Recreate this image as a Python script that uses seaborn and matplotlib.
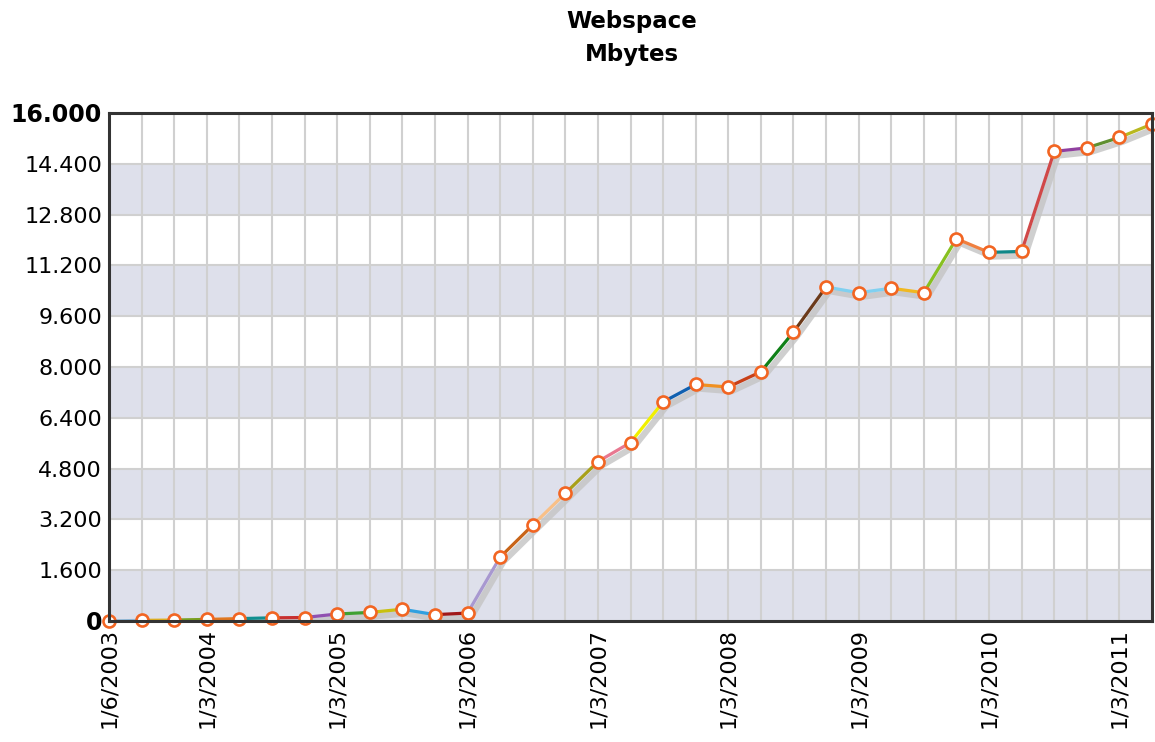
import matplotlib
matplotlib.use("Agg")
import matplotlib.pyplot as plt
import matplotlib.patheffects as pe
import seaborn as sns
import pandas as pd

# quarterly samples, 1/6/2003 .. 1/6/2011
dates = pd.date_range("2003-06-01", "2011-06-01", freq="3MS")
mbytes = [0, 20, 30, 50, 75, 100, 110, 220, 270, 370, 200, 250,
          2010, 3020, 4020, 5020, 5620, 6900, 7450, 7370, 7850,
          9100, 10520, 10340, 10480, 10340, 12040, 11610, 11640,
          14790, 14900, 15230, 15650]
seg_colors = ["#8fb8d8", "#e0b020", "#7aa020", "#e07820", "#109090", "#c83030",
              "#9050b0", "#40a030", "#c8c010", "#30a0e0", "#a01818", "#a898d0",
              "#c86418", "#f8c088", "#a8a018", "#e87890", "#f0f000", "#1060b0",
              "#f09020", "#c84018", "#108018", "#6b3a1a", "#80d0f0", "#80d0f0",
              "#f0b820", "#88c020", "#f08040", "#108888", "#d04848", "#9040a0",
              "#609030", "#b8b820"]
yticks = [0, 1600, 3200, 4800, 6400, 8000, 9600, 11200, 12800, 14400, 16000]

df = pd.DataFrame({"x": range(len(dates)), "y": mbytes})
labels = ["1/%d/%d" % (d.month, d.year) for d in dates]
label_pos = [i for i, d in enumerate(dates) if i == 0 or d.month == 3]

# each coloured piece between two neighbouring points
rows = []
for i in range(len(df) - 1):
    rows.append({"x": i, "y": mbytes[i], "seg": i})
    rows.append({"x": i + 1, "y": mbytes[i + 1], "seg": i})
segs = pd.DataFrame(rows)

sns.set_style("white")
plt.rcParams["font.family"] = ["DejaVu Sans"]
plt.rcParams["text.color"] = "black"
plt.rcParams["xtick.color"] = "black"
plt.rcParams["ytick.color"] = "black"

fig = plt.figure(figsize=(11.55, 7.42), dpi=100)
ax = fig.add_axes([109 / 1155, 121 / 742, 1043 / 1155, 508 / 742])

for lo in yticks[0:-1:2]:
    ax.axhspan(lo, lo + 1600, color="#dee0eb", lw=0, zorder=0)

# grey drop shadow under the line
sns.lineplot(data=df, x="x", y="y", ax=ax, color="k", lw=4.5, zorder=2)
ax.lines[-1].set_path_effects([pe.SimpleLineShadow(offset=(2.5, -3),
                                                   shadow_color="#c4c4c4", alpha=0.8)])

sns.lineplot(data=segs, x="x", y="y", hue="seg", palette=seg_colors, ax=ax,
             lw=2.3, legend=False, estimator=None, sort=False, zorder=3)
sns.scatterplot(data=df, x="x", y="y", ax=ax, s=75, color="white",
                edgecolor="#f26522", linewidth=1.9, zorder=4, clip_on=False)

ax.set_xlim(0, len(df) - 1)
ax.set_ylim(0, 16000)
ax.set_xticks(range(len(df)))
ax.set_xticklabels([labels[i] if i in label_pos else "" for i in range(len(df))],
                   rotation=90, fontsize=16)
ax.set_yticks(yticks)
ax.set_yticklabels([f"{v:,}".replace(",", ".") for v in yticks], fontsize=16)
for t in (ax.get_yticklabels()[0], ax.get_yticklabels()[-1]):
    t.set_fontweight("bold")
    t.set_fontsize(17)
ax.tick_params(length=0, pad=5)
ax.grid(True, color="#d0d0d0", lw=1.5)
ax.set_axisbelow(True)
for s in ax.spines.values():
    s.set_color("#333333")
    s.set_linewidth(2.2)
    s.set_zorder(5)
ax.set_xlabel("")
ax.set_ylabel("")

fig.text(632 / 1155, 1 - 38 / 742, "Webspace\nMbytes", ha="center", va="center",
         fontsize=16.5, fontweight="bold", linespacing=1.6)

fig.savefig("out.png", dpi=100, facecolor="white")
